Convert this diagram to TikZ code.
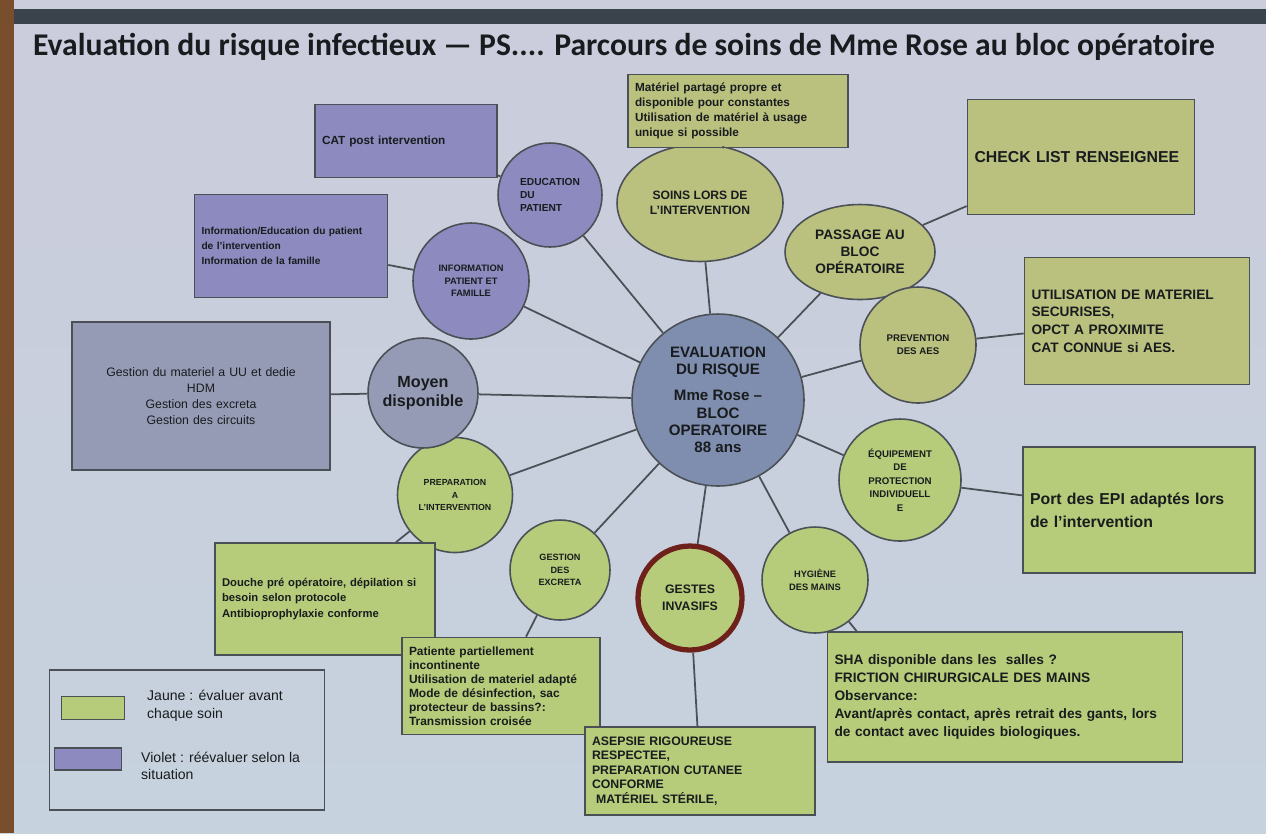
\documentclass[tikz,border=0pt]{standalone}
\usepackage{fontspec}
\setmainfont{Liberation Sans}
\newfontfamily\titlefont{Carlito}
\usetikzlibrary{shapes.geometric}
\definecolor{bgtop}{RGB}{203,204,220}
\definecolor{bgmid}{RGB}{222,229,215}
\definecolor{bgbot}{RGB}{198,210,221}
\definecolor{hubc}{RGB}{127,142,174}
\definecolor{violc}{RGB}{140,138,190}
\definecolor{greyc}{RGB}{150,155,181}
\definecolor{olivc}{RGB}{186,192,126}
\definecolor{jaunc}{RGB}{182,204,122}
\definecolor{linec}{RGB}{74,80,86}
\definecolor{ringc}{RGB}{110,32,26}
\definecolor{inkc}{RGB}{25,28,30}
\definecolor{barc}{RGB}{58,66,76}
\definecolor{woodc}{RGB}{120,78,44}
\newcommand{\fz}[2]{\fontsize{#1}{#2}\selectfont\bfseries}
\tikzset{
  bubble/.style={circle, draw=linec, line width=0.9pt, align=center, inner sep=1pt, text=inkc},
  oval/.style={ellipse, draw=linec, line width=0.9pt, align=center, inner sep=1pt, text=inkc},
  note/.style={draw=linec, line width=0.9pt, align=left, inner xsep=4pt, inner ysep=2pt, text=inkc},
  swatch/.style={draw=linec, line width=0.8pt},
  link/.style={draw=linec, line width=1pt}
}
\begin{document}
\begin{tikzpicture}[x=0.02cm, y=-0.02cm]
  \useasboundingbox (0,0) rectangle (1266,833);
  \shade[top color=bgtop, middle color=bgmid, bottom color=bgbot] (0,0) rectangle (1266,833);
  \fill[woodc] (0,0) rectangle (14,833);
  \fill[barc] (14,9) rectangle (1266,24);

  \node[text=inkc, font=\titlefont\bfseries\fontsize{18}{21}\selectfont] (title) at (624,47) {Evaluation du risque infectieux — PS.... Parcours de soins de Mme Rose au bloc opératoire};

  \node[bubble, fill=hubc, minimum size=3.44cm, font=\fz{8.6}{9.8}] (hub) at (718,400) {EVALUATION\\DU RISQUE\\[5pt]Mme Rose –\\BLOC\\OPERATOIRE\\88 ans};
  \node[bubble, fill=violc, minimum size=2.08cm, align=left, font=\fz{5.8}{7.5}] (edu) at (550,195) {EDUCATION\\DU\\PATIENT};
  \node[bubble, fill=violc, minimum size=2.32cm, font=\fz{5.3}{7}] (info) at (471,281) {INFORMATION\\PATIENT ET\\FAMILLE};
  \node[oval, fill=olivc, minimum width=3.32cm, minimum height=2.34cm, font=\fz{6.9}{8.5}] (soins) at (700,203) {SOINS LORS DE\\L'INTERVENTION};
  \node[oval, fill=olivc, minimum width=3cm, minimum height=1.9cm, font=\fz{7.8}{9.8}] (pass) at (860,252) {PASSAGE AU\\BLOC\\OPÉRATOIRE};
  \node[bubble, fill=olivc, minimum size=2.32cm, font=\fz{5.5}{7.5}] (prev) at (918,345) {PREVENTION\\DES AES};
  \node[bubble, fill=jaunc, minimum size=2.44cm, font=\fz{5.5}{7.6}] (epi) at (900,480) {ÉQUIPEMENT\\DE\\PROTECTION\\INDIVIDUELL\\E};
  \node[bubble, fill=jaunc, minimum size=2.12cm, font=\fz{5.3}{7.2}] (hyg) at (815,580) {HYGIÈNE\\DES MAINS};
  \node[bubble, fill=jaunc, draw=ringc, line width=3pt, minimum size=2.08cm, font=\fz{7}{9.5}] (gestes) at (690,598) {GESTES\\INVASIFS};
  \node[bubble, fill=jaunc, minimum size=2cm, font=\fz{5.2}{7.2}] (excr) at (560,570) {GESTION\\DES\\EXCRETA};
  \node[bubble, fill=jaunc, minimum size=2.3cm, font=\fz{5}{7}] (prep) at (455,495) {PREPARATION\\A\\L'INTERVENTION};
  \node[bubble, fill=greyc, minimum size=2.2cm, font=\fz{9.2}{11}] (moyen) at (423,393) {Moyen\\disponible};

  \node[note, fill=violc, text width=3.36cm, minimum height=1.46cm, font=\fz{6.7}{8.5}] (cat) at (406,141) {CAT post intervention};
  \node[note, fill=violc, text width=3.58cm, minimum height=2.06cm, font=\fz{5.8}{8.5}] (infobox) at (291,246) {Information/Education du patient\\de l'intervention\\Information de la famille};
  \node[note, fill=greyc, text width=4.88cm, minimum height=2.96cm, align=center, font=\fontsize{7}{9}\selectfont] (gestbox) at (201,396) {Gestion du materiel a UU et dedie\\HDM\\Gestion des excreta\\Gestion des circuits};
  \node[note, fill=olivc, text width=4.12cm, minimum height=1.46cm, font=\fz{6.7}{8.5}] (mat) at (738,111) {Matériel partagé propre et\\disponible pour constantes\\Utilisation de matériel à usage\\unique si possible};
  \node[note, fill=olivc, text width=4.26cm, minimum height=2.3cm, font=\fz{9}{11}] (check) at (1081,157) {CHECK LIST RENSEIGNEE};
  \node[note, fill=olivc, text width=4.22cm, minimum height=2.54cm, font=\fz{7.8}{10}] (util) at (1137,321) {UTILISATION DE MATERIEL\\SECURISES,\\OPCT A PROXIMITE\\CAT CONNUE si AES.};
  \node[note, fill=jaunc, text width=4.36cm, minimum height=2.52cm, font=\fz{9}{13}] (port) at (1139,510) {Port des EPI adaptés lors\\de l'intervention};
  \node[note, fill=jaunc, text width=4.12cm, minimum height=2.24cm, font=\fz{6.4}{9}] (douche) at (325,599) {Douche pré opératoire, dépilation si\\besoin selon protocole\\Antibioprophylaxie conforme};
  \node[note, fill=jaunc, text width=3.68cm, minimum height=1.94cm, font=\fz{6.8}{8}] (pat) at (501,686) {Patiente partiellement\\incontinente\\Utilisation de materiel adapté\\Mode de désinfection, sac\\protecteur de bassins?:\\Transmission croisée};
  \node[note, fill=jaunc, text width=4.32cm, minimum height=1.76cm, font=\fz{7}{8.2}] (asep) at (700,771) {ASEPSIE RIGOUREUSE\\RESPECTEE,\\PREPARATION CUTANEE\\CONFORME\\\ MATÉRIEL STÉRILE,};
  \node[note, fill=jaunc, text width=6.82cm, minimum height=2.6cm, font=\fz{7.8}{10.2}] (sha) at (1005,697) {SHA disponible dans les\ \ salles ?\\FRICTION CHIRURGICALE DES MAINS\\Observance:\\Avant/après contact, après retrait des gants, lors\\de contact avec liquides biologiques.};

  \node[draw=linec, line width=0.9pt, minimum width=5.5cm, minimum height=2.8cm] (leg) at (187,740) {};
  \node[swatch, fill=jaunc, minimum width=1.26cm, minimum height=0.46cm] (swj) at (93,708) {};
  \node[swatch, fill=violc, minimum width=1.34cm, minimum height=0.44cm] (swv) at (88,759) {};
  \node[anchor=west, align=left, text=inkc, font=\fontsize{8}{10}\selectfont] (txtj) at (141,706) {Jaune : évaluer avant\\chaque soin};
  \node[anchor=west, align=left, text=inkc, font=\fontsize{8}{10}\selectfont] (txtv) at (135,766) {Violet : réévaluer selon la\\situation};

  \draw[link] (hub) -- (edu);
  \draw[link] (hub) -- (info);
  \draw[link] (hub) -- (soins);
  \draw[link] (hub) -- (pass);
  \draw[link] (hub) -- (prev);
  \draw[link] (hub) -- (epi);
  \draw[link] (hub) -- (hyg);
  \draw[link] (hub) -- (gestes);
  \draw[link] (hub) -- (excr);
  \draw[link] (hub) -- (prep);
  \draw[link] (hub) -- (moyen);
  \draw[link] (cat) -- (edu);
  \draw[link] (infobox) -- (info);
  \draw[link] (gestbox) -- (moyen);
  \draw[link] (mat) -- (soins);
  \draw[link] (check) -- (pass);
  \draw[link] (util) -- (prev);
  \draw[link] (port) -- (epi);
  \draw[link] (douche) -- (prep);
  \draw[link] (pat) -- (excr);
  \draw[link] (gestes) -- (asep);
  \draw[link] (hyg) -- ([xshift=0.6cm]sha.north west);
\end{tikzpicture}
\end{document}
